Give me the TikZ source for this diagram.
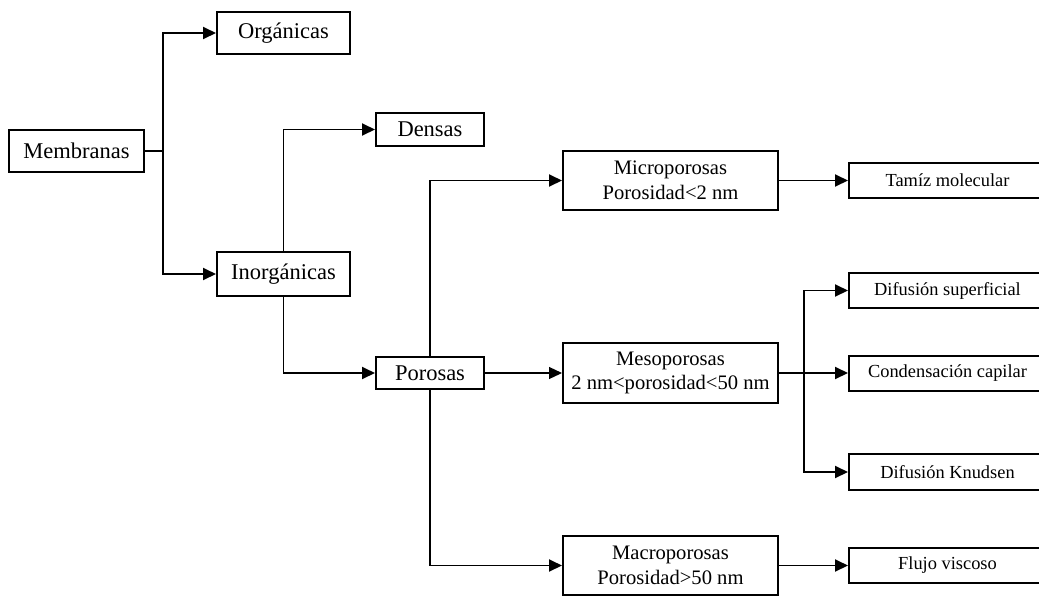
\documentclass[tikz,border=0pt]{standalone}
\usepackage{fontspec}
\setmainfont{Liberation Serif}
\usetikzlibrary{arrows.meta}
\tikzset{
  box/.style={draw, line width=2pt, inner sep=0pt, align=center, anchor=center},
  bigbox/.style={box, font=\fontsize{22.5}{27}\selectfont},
  midbox/.style={box, font=\fontsize{20.6}{24.7}\selectfont, minimum width=215pt, minimum height=59pt},
  smallbox/.style={box, font=\fontsize{18.4}{22}\selectfont, minimum width=197pt, minimum height=35pt},
  arr/.style={line width=1.9pt, -{Triangle[length=13pt,width=12pt]}},
  conn/.style={line width=1.9pt},
  thinarr/.style={line width=1.2pt, -{Triangle[length=13pt,width=12pt]}}
}
\begin{document}
\begin{tikzpicture}[x=1pt,y=-1pt]
\useasboundingbox (0,0) rectangle (1039,595);
\clip (0,0) rectangle (1039,595);
\node[bigbox, minimum width=135pt, minimum height=42pt] (mem) at (76.5,151) {Membranas};
\node[bigbox, minimum width=133pt, minimum height=42pt] (org) at (283.5,33) {Orgánicas};
\node[bigbox, minimum width=133pt, minimum height=44pt] (inorg) at (283.5,274) {Inorgánicas};
\node[bigbox, minimum width=108pt, minimum height=33pt] (dens) at (430,129.5) {Densas};
\node[bigbox, minimum width=108pt, minimum height=32pt] (poro) at (430,373) {Porosas};
\node[midbox] (micro) at (670.5,180.5) {Microporosas\\Porosidad<2 nm};
\node[midbox, minimum height=60pt] (meso) at (670.5,373) {Mesoporosas\\2 nm<porosidad<50 nm};
\node[midbox] (macro) at (670.5,565.5) {Macroporosas\\Porosidad>50 nm};
\node[smallbox] (tamiz) at (947.5,180.5) {Tamíz molecular};
\node[smallbox] (sup) at (947.5,290.5) {Difusión superficial};
\node[smallbox] (cond) at (947.5,373) {Condensación capilar};
\node[smallbox, minimum height=36pt] (knud) at (947.5,472) {Difusión Knudsen};
\node[smallbox] (flujo) at (947.5,565.5) {Flujo viscoso};
\coordinate (j1) at (163,151);
\coordinate (j2) at (804,373);
\draw[conn] (mem.east) -- (j1);
\draw[arr] (j1) |- (org.west);
\draw[arr] (j1) |- (inorg.west);
\draw[arr] (inorg.north) |- (dens.west);
\draw[arr] (inorg.south) |- (poro.west);
\draw[arr] (poro.north) |- (micro.west);
\draw[thinarr] (poro.east) -- (meso.west);
\draw[arr] (poro.south) |- (macro.west);
\draw[arr] (micro.east) -- (tamiz.west);
\draw[arr] (macro.east) -- (flujo.west);
\draw[arr] (meso.east) -- (cond.west);
\draw[arr] (j2) |- (sup.west);
\draw[arr] (j2) |- (knud.west);
\end{tikzpicture}
\end{document}
